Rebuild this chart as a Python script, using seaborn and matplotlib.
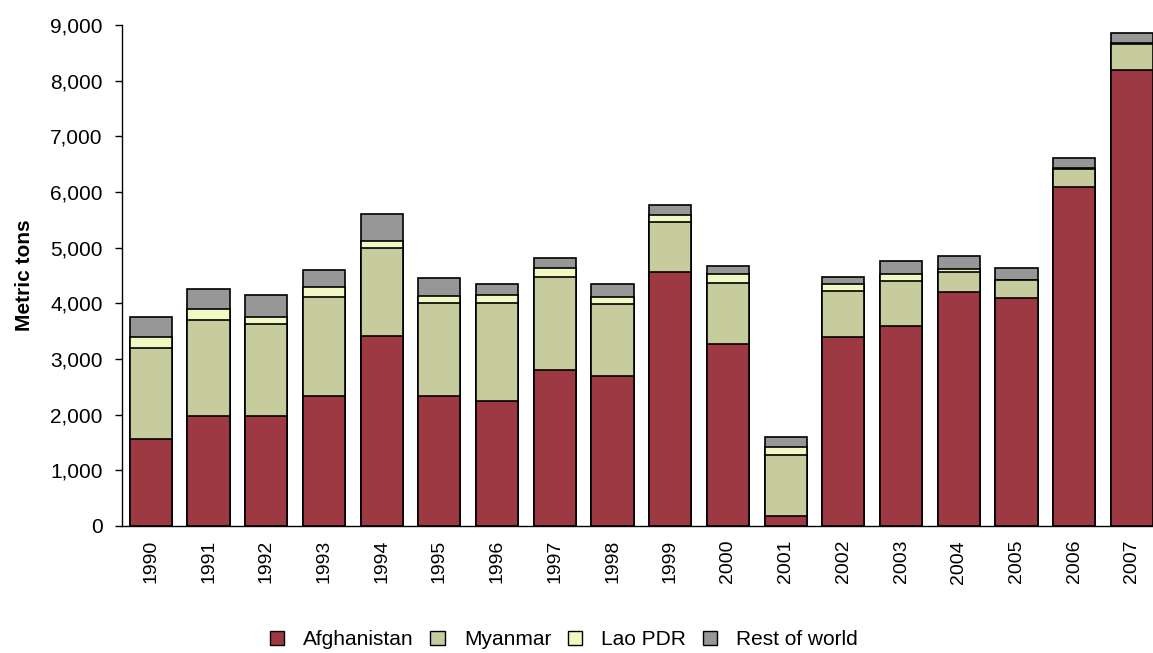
import pandas as pd
import matplotlib.pyplot as plt
import seaborn as sns
from matplotlib.patches import Patch
from matplotlib.ticker import FuncFormatter

# Production d'opium par pays (tonnes)
years = [str(y) for y in range(1990, 2008)]
afghanistan = [1570, 1980, 1970, 2330, 3416, 2335, 2248, 2804, 2693, 4565,
               3276, 185, 3400, 3600, 4200, 4100, 6100, 8200]
myanmar = [1621, 1728, 1660, 1791, 1583, 1664, 1760, 1676, 1303, 895,
           1087, 1097, 828, 810, 370, 312, 315, 460]
lao_pdr = [202, 196, 127, 169, 120, 128, 140, 147, 124, 124,
           167, 134, 112, 120, 43, 14, 20, 23]
rest_of_world = [360, 355, 395, 310, 490, 325, 200, 195, 220, 190,
                 145, 180, 140, 235, 235, 215, 185, 180]

series = ['Afghanistan', 'Myanmar', 'Lao PDR', 'Rest of world']
colors = ['#9D3942', '#C6CC9E', '#F2F8C4', '#979797']

df = pd.DataFrame({
    'Year': years,
    'Afghanistan': afghanistan,
    'Myanmar': myanmar,
    'Lao PDR': lao_pdr,
    'Rest of world': rest_of_world,
})
cum = df[series].cumsum(axis=1)

sns.set_style('white')
plt.rcParams['font.family'] = ['Liberation Sans', 'DejaVu Sans']
plt.rcParams['text.color'] = 'black'
plt.rcParams['axes.labelcolor'] = 'black'
plt.rcParams['xtick.color'] = 'black'
plt.rcParams['ytick.color'] = 'black'

fig = plt.figure(figsize=(11.53, 6.53), dpi=100)
ax = fig.add_axes([0.1058, 0.1945, 0.901, 0.767])

# Empiler : tracer du haut vers le bas
for name, color in reversed(list(zip(series, colors))):
    sns.barplot(x=df['Year'], y=cum[name], color=color, saturation=1,
                edgecolor='black', linewidth=1.2, width=0.73,
                errorbar=None, ax=ax)

ax.set_xlim(-0.5, len(years) - 0.5)
ax.set_ylim(0, 9000)
ax.set_yticks(range(0, 9001, 1000))
ax.yaxis.set_major_formatter(FuncFormatter(lambda v, p: f'{int(v):,}'))
ax.set_xlabel('')
ax.set_ylabel('Metric tons', fontsize=15, fontweight='bold')
ax.yaxis.set_label_coords(-0.085, 0.5)

ax.set_xticks(range(len(years)))
ax.set_xticklabels(years, rotation=90, fontsize=14)
ax.set_xticks([i - 0.5 for i in range(len(years) + 1)], minor=True)
ax.tick_params(axis='x', which='major', length=0, pad=10)
ax.tick_params(axis='x', which='minor', length=6, width=1, direction='out')
ax.tick_params(axis='y', labelsize=15, length=5, width=1, direction='out',
               left=True, pad=9)

for s in ['top', 'right']:
    ax.spines[s].set_visible(False)
for s in ['left', 'bottom']:
    ax.spines[s].set_color('black')
    ax.spines[s].set_linewidth(1)

handles = [Patch(facecolor=c, edgecolor='black', label=n)
           for n, c in zip(series, colors)]
fig.legend(handles=handles, loc='lower center', bbox_to_anchor=(0.489, -0.023),
           ncol=4, frameon=False, fontsize=15, handlelength=0.7,
           handleheight=0.7, handletextpad=0.9, columnspacing=0.8)

fig.savefig('out.png', dpi=100)
plt.close()
